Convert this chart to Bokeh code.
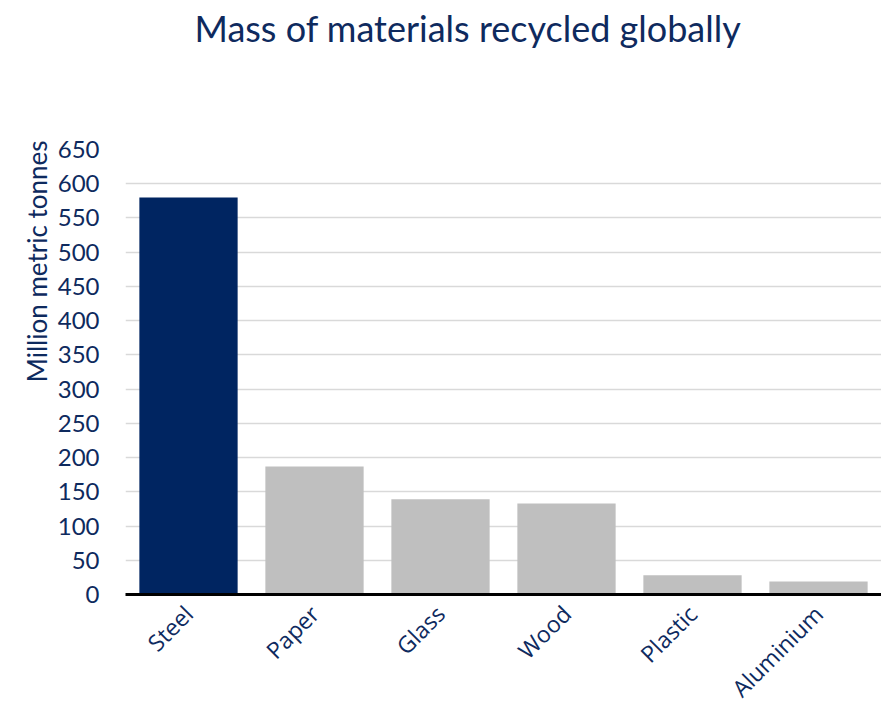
import math
from bokeh.plotting import figure
from bokeh.models import FactorRange, ColumnDataSource, Title
from bokeh.embed import file_html
from bokeh.resources import INLINE

categories = ["Steel", "Paper", "Glass", "Wood", "Plastic", "Aluminium"]
values = [580, 187, 139, 133, 28, 19]
bar_colors = ["#002561", "#BFBFBF", "#BFBFBF", "#BFBFBF", "#BFBFBF", "#BFBFBF"]
y_ticks = list(range(0, 651, 50))

NAVY = "#0E2A5E"

src = ColumnDataSource(dict(cat=categories, val=values, color=bar_colors))

p = figure(width=881, height=717, x_range=FactorRange(*categories, range_padding=0),
           y_range=(0, 650), output_backend="svg", toolbar_location=None,
           min_border_left=125, min_border_right=0, min_border_top=149,
           min_border_bottom=123)
p.outline_line_color = None
p.background_fill_color = "white"
p.border_fill_color = "white"

p.vbar(x="cat", top="val", width=0.78, color="color", source=src, line_color=None)

p.xgrid.grid_line_color = None
p.ygrid.grid_line_color = "#D9D9D9"
p.ygrid.grid_line_width = 1.5
p.ygrid.ticker = y_ticks

p.yaxis.ticker = y_ticks
p.yaxis.axis_line_color = None
p.yaxis.major_tick_line_color = None
p.yaxis.minor_tick_line_color = None
p.yaxis.major_label_text_font = "Lato"
p.yaxis.major_label_text_font_size = "24px"
p.yaxis.major_label_text_color = NAVY
p.yaxis.major_label_standoff = 20

p.xaxis.axis_line_color = "black"
p.xaxis.axis_line_width = 3
p.xaxis.major_tick_line_color = None
p.xaxis.minor_tick_line_color = None
p.xaxis.major_label_orientation = math.pi / 4
p.xaxis.major_label_text_font = "Open Sans"
p.xaxis.major_label_text_font_size = "23px"
p.xaxis.major_label_text_line_height = 1.0
p.xaxis.major_label_text_color = NAVY
p.xaxis.major_label_standoff = 9

# spacer between frame and title (closest to frame)
spacer = Title(text=" ", text_font_size="1px", standoff=96)
p.add_layout(spacer, "above")

title = Title(text="Mass of materials recycled globally", text_font="Lato",
              text_font_size="36px", text_color=NAVY, align="left", offset=69,
              text_font_style="normal", standoff=0, vertical_align="middle")
p.add_layout(title, "above")

ylab = Title(text="Million metric tonnes", text_font="Lato", text_font_size="26px",
             text_color=NAVY, align="right", text_font_style="normal",
             offset=-9, standoff=4)
p.add_layout(ylab, "left")

open("out.html", "w").write(file_html(p, INLINE))
